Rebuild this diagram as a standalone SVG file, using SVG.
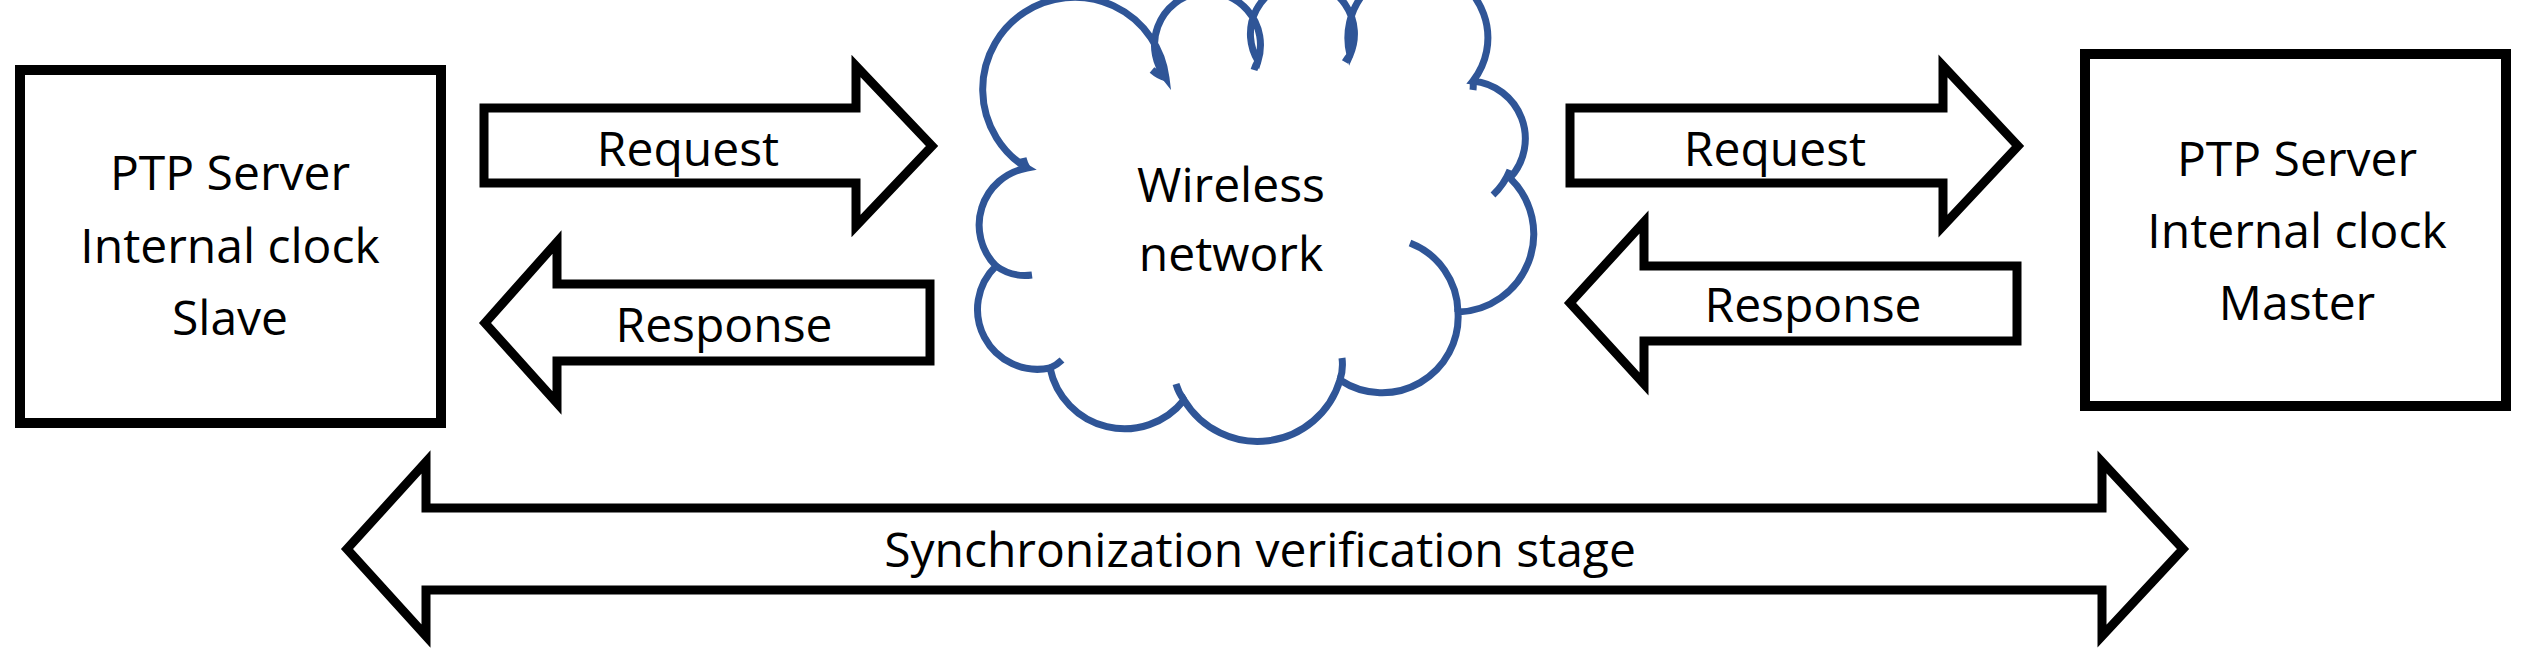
<svg xmlns="http://www.w3.org/2000/svg" width="2532" height="654" viewBox="0 0 2532 654">
<style>
.b{fill:#fff;stroke:#000;stroke-width:10}
.a{fill:#fff;stroke:#000;stroke-width:9;stroke-linejoin:miter}
.t{font-family:"Open Sans","Liberation Sans",sans-serif;font-size:48px;fill:#000;text-anchor:middle}
.c{fill:#fff;stroke:#2F5597;stroke-width:7}
.ci{fill:none;stroke:#2F5597;stroke-width:7}
</style>
<g id="slave"><rect class="b" x="20" y="70" width="421" height="353"/>
<text class="t" x="230" y="190">PTP Server</text><text class="t" x="230" y="263">Internal clock</text><text class="t" x="230" y="335">Slave</text></g>
<g id="master"><rect class="b" x="2085" y="54" width="421" height="352"/>
<text class="t" x="2297" y="176">PTP Server</text><text class="t" x="2297" y="248">Internal clock</text><text class="t" x="2297" y="320">Master</text></g>
<g id="cloud">
<path class="c" d="M1027,168 A92,92 0 1 1 1166,78 A53,53 0 1 1 1258,61 A52,52 0 1 1 1350,55 A70,70 0 1 1 1473,81 A58,58 0 0 1 1510,178 A78,78 0 0 1 1458,312 A76,76 0 0 1 1340,380 A86,86 0 0 1 1184,400 A76,76 0 0 1 1050,368 A60,60 0 0 1 996,266 A58,58 0 0 1 1027,168 Z"/>
<path class="ci" d="M1410,243 A75,75 0 0 1 1458,312 M1510,170 A70,70 0 0 1 1493,195 M996,266 A50,50 0 0 0 1032,275 M1050,368 A40,40 0 0 0 1062,360 M1176,384 A50,50 0 0 0 1184,400 M1342,358 A50,50 0 0 1 1340,380 M1027,168 A40,40 0 0 1 1023,158 M1166,78 A40,40 0 0 1 1152,70 M1258,61 A40,40 0 0 0 1254,70 M1350,55 A40,40 0 0 0 1345,62 M1473,81 A40,40 0 0 1 1473,90"/>
<text class="t" x="1231" y="202">Wireless</text><text class="t" x="1231" y="271">network</text></g>
<g id="connectors">
<path class="a" d="M484,108 H856 V66 L932,146 L856,226 V183 H484 Z"/>
<text class="t" x="688" y="166">Request</text>
<path class="a" d="M930,284 H557 V242 L485,323 L557,403 V361 H930 Z"/>
<text class="t" x="724" y="342">Response</text>
<path class="a" d="M1570,108 H1943 V66 L2018,146 L1943,226 V183 H1570 Z"/>
<text class="t" x="1775" y="166">Request</text>
<path class="a" d="M2017,266 H1644 V222 L1570,303 L1644,384 V341 H2017 Z"/>
<text class="t" x="1813" y="322">Response</text>
<path class="a" d="M426,508 H2102 V462 L2183,549 L2102,636 V590 H426 V636 L347,549 L426,462 Z"/>
<text class="t" x="1260" y="567">Synchronization verification stage</text>
</g>
</svg>
